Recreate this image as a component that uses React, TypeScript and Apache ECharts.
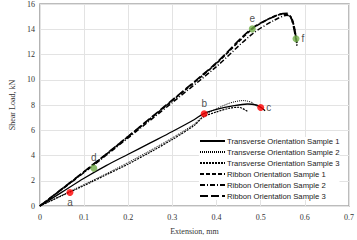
import React, { useEffect, useRef } from "react";
import * as echarts from "echarts";

// ---- data ----
const seriesNames = [
  "Transverse Orientation Sample 1",
  "Transverse Orientation Sample 2",
  "Transverse Orientation Sample 3",
  "Ribbon Orientation Sample 1",
  "Ribbon Orientation Sample 2",
  "Ribbon Orientation Sample 3",
];

const t1X = [0, 0.05, 0.1, 0.15, 0.2, 0.25, 0.3, 0.35, 0.37, 0.4, 0.44, 0.47, 0.49, 0.5, 0.51];
const t1Y = [0, 1.1, 2.2, 3.2, 4.1, 5.0, 5.9, 6.85, 7.3, 7.65, 7.95, 8.08, 8.0, 7.82, 7.55];

const t2X = [0, 0.05, 0.1, 0.15, 0.2, 0.25, 0.3, 0.35, 0.37, 0.4, 0.43, 0.46, 0.48, 0.49];
const t2Y = [0, 0.85, 1.7, 2.55, 3.45, 4.4, 5.4, 6.5, 7.15, 7.7, 8.15, 8.35, 8.2, 7.9];

const t3X = [0, 0.05, 0.1, 0.15, 0.2, 0.25, 0.3, 0.35, 0.37, 0.4, 0.43, 0.45, 0.47];
const t3Y = [0, 0.82, 1.62, 2.47, 3.32, 4.27, 5.27, 6.4, 7.05, 7.45, 7.75, 7.82, 7.5];

const r1X = [0, 0.1, 0.2, 0.3, 0.4, 0.48, 0.52, 0.55, 0.565, 0.575, 0.58, 0.582];
const r1Y = [0, 2.7, 5.5, 8.35, 11.3, 14.0, 14.85, 15.2, 15.1, 14.3, 13.3, 12.7];

const r2X = [0, 0.1, 0.2, 0.3, 0.4, 0.48, 0.53, 0.56, 0.57, 0.578, 0.582];
const r2Y = [0, 2.65, 5.4, 8.2, 11.05, 13.6, 14.7, 15.1, 14.9, 13.8, 12.9];

const r3X = [0, 0.1, 0.2, 0.3, 0.4, 0.48, 0.54, 0.56, 0.57, 0.58];
const r3Y = [0, 2.72, 5.52, 8.4, 11.35, 14.05, 15.15, 15.25, 14.8, 13.2];

const redNames = ["a", "b", "c"];
const redX = [0.068, 0.372, 0.5];
const redY = [1.07, 7.3, 7.8];

const greenNames = ["d", "e", "f"];
const greenX = [0.122, 0.481, 0.58];
const greenY = [3.0, 14.03, 13.25];

const xTicks = { min: 0, max: 0.7, interval: 0.1 };
const yTicks = { min: 0, max: 16, interval: 2 };

// ---- styles ----
const lineStyles: any[] = [
  { type: "solid", width: 1.3 },
  { type: [1, 1], width: 1 },
  { type: [2, 1], width: 1.2 },
  { type: [4, 2], width: 1.7 },
  { type: [5, 2, 1, 2], width: 1.5 },
  { type: [8, 3], width: 1.7 },
];
const labelPos: Record<string, string> = { a: "bottom", b: "top", c: "right", d: "top", e: "top", f: "right" };

const zip = (xs: number[], ys: number[]) => xs.map((x, i) => [x, ys[i]]);
const lineData = [zip(t1X, t1Y), zip(t2X, t2Y), zip(t3X, t3Y), zip(r1X, r1Y), zip(r2X, r2Y), zip(r3X, r3Y)];

export default function App() {
  const ref = useRef<HTMLDivElement>(null);
  useEffect(() => {
    const chart = echarts.init(ref.current!, null, { renderer: "svg" });
    const serif = "Liberation Serif";
    const lines = seriesNames.map((name, i) => ({
      name,
      type: "line",
      data: lineData[i],
      showSymbol: false,
      symbol: "none",
      smooth: 0.3,
      lineStyle: { color: "#000", ...lineStyles[i] },
      itemStyle: { color: "#000" },
      z: 2,
    }));
    const pts = (names: string[], xs: number[], ys: number[], color: string) => ({
      type: "scatter",
      symbolSize: 7,
      itemStyle: { color },
      z: 5,
      data: names.map((n, i) => ({
        name: n,
        value: [xs[i], ys[i]],
        label: {
          show: true,
          position: labelPos[n],
          formatter: n,
          distance: 2,
          fontFamily: "Liberation Sans",
          fontSize: 10,
          color: "#222",
        },
      })),
    });
    chart.setOption({
      animation: false,
      backgroundColor: "#fff",
      grid: {
        left: 24,
        right: 7,
        top: 4,
        bottom: 31,
        show: true,
        borderColor: "#a6a6a6",
        borderWidth: 1.5,
      },
      legend: {
        data: seriesNames,
        orient: "vertical",
        left: 199,
        top: 137,
        itemWidth: 25,
        itemHeight: 8,
        itemGap: 3,
        padding: 0,
        backgroundColor: "#fff",
        itemStyle: { opacity: 0 },
        textStyle: { fontFamily: "Liberation Sans", fontSize: 7.7, color: "#222", padding: [0, 0, 0, -3] },
      },
      xAxis: {
        type: "value",
        ...xTicks,
        name: "Extension, mm",
        nameLocation: "middle",
        nameGap: 21,
        nameTextStyle: { fontFamily: serif, fontSize: 8, color: "#333" },
        axisLine: { show: false },
        axisTick: { show: false },
        axisLabel: { fontFamily: serif, fontSize: 8, color: "#333", margin: 7, formatter: (v: number) => String(Math.round(v * 10) / 10) },
        splitLine: { show: true, lineStyle: { color: "#e3e3e3", width: 1 } },
      },
      yAxis: {
        type: "value",
        ...yTicks,
        name: "Shear Load, kN",
        nameLocation: "middle",
        nameGap: 17,
        nameTextStyle: { fontFamily: serif, fontSize: 8, color: "#333" },
        axisLine: { show: false },
        axisTick: { show: false },
        axisLabel: { fontFamily: serif, fontSize: 8, color: "#333", margin: 5 },
        splitLine: { show: true, lineStyle: { color: "#e3e3e3", width: 1 } },
      },
      series: [
        ...lines,
        pts(redNames, redX, redY, "#ff0000"),
        pts(greenNames, greenX, greenY, "#70ad47"),
      ],
    });
    return () => chart.dispose();
  }, []);
  return <div ref={ref} style={{ position: "fixed", left: 0, top: 0, width: 357, height: 240 }} />;
}
